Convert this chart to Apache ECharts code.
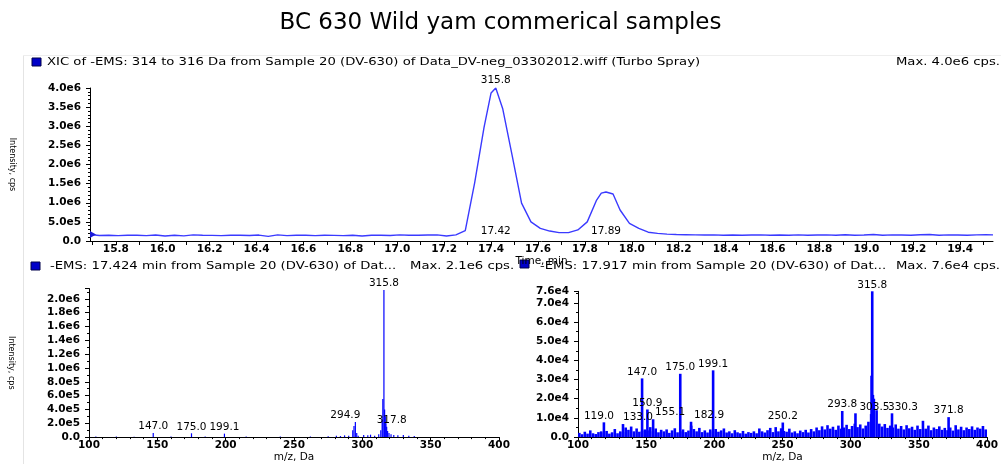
<!DOCTYPE html>
<html>
<head>
<meta charset="utf-8">
<script src="https://cdn.jsdelivr.net/npm/echarts@6/dist/echarts.min.js"></script>
<style>
  html, body { margin: 0; padding: 0; background: #ffffff; }
  #chart { width: 1001px; height: 464px; }
</style>
</head>
<body>
<div id="chart"></div>
<script>
// ---- texts ----
const chartTitle = 'BC 630 Wild yam commerical samples';
const xicName = 'XIC of -EMS: 314 to 316 Da from Sample 20 (DV-630) of Data_DV-neg_03302012.wiff (Turbo Spray)';
const xicMaxText = 'Max. 4.0e6 cps.';
const specAName = '-EMS: 17.424 min from Sample 20 (DV-630) of Dat...';
const specAMaxText = 'Max. 2.1e6 cps.';
const specBName = '-EMS: 17.917 min from Sample 20 (DV-630) of Dat...';
const specBMaxText = 'Max. 7.6e4 cps.';
const intensityName = 'Intensity, cps';
const timeName = 'Time, min';
const mzName = 'm/z, Da';

// ---- extracted ion chromatogram (time in min, intensity in cps) ----
const xicTime = [
  15.69, 15.73, 15.77, 15.81, 15.85, 15.89, 15.93, 15.97, 16.01, 16.05,
  16.09, 16.13, 16.17, 16.21, 16.25, 16.29, 16.33, 16.37, 16.41, 16.45,
  16.49, 16.53, 16.57, 16.61, 16.65, 16.69, 16.73, 16.77, 16.81, 16.85,
  16.89, 16.93, 16.97, 17.01, 17.05, 17.09, 17.13, 17.17, 17.21, 17.25,
  17.29, 17.33, 17.37, 17.40, 17.42, 17.45, 17.49, 17.53, 17.57, 17.61,
  17.65, 17.69, 17.73, 17.77, 17.81, 17.85, 17.87, 17.89, 17.92, 17.95,
  17.99, 18.03, 18.07, 18.11, 18.15, 18.19, 18.23, 18.27, 18.31, 18.35,
  18.39, 18.43, 18.47, 18.51, 18.55, 18.59, 18.63, 18.67, 18.71, 18.75,
  18.79, 18.83, 18.87, 18.91, 18.95, 18.99, 19.03, 19.07, 19.11, 19.15,
  19.19, 19.23, 19.27, 19.31, 19.35, 19.39, 19.43, 19.47, 19.51, 19.54
];
const xicIntensity = [
  170000, 145000, 150000, 140000, 150000, 152000, 140000, 158000, 132000, 150000,
  135000, 160000, 150000, 148000, 140000, 152000, 150000, 142000, 155000, 122000,
  160000, 140000, 150000, 152000, 140000, 150000, 148000, 140000, 152000, 132000,
  150000, 150000, 142000, 160000, 150000, 150000, 158000, 160000, 130000, 160000,
  270000, 1520000, 2970000, 3870000, 4000000, 3450000, 2230000, 990000, 500000, 330000,
  260000, 220000, 220000, 290000, 500000, 1070000, 1250000, 1280000, 1230000, 810000,
  460000, 330000, 230000, 200000, 180000, 170000, 165000, 160000, 155000, 160000,
  150000, 158000, 150000, 155000, 160000, 150000, 158000, 152000, 160000, 150000,
  155000, 160000, 150000, 165000, 150000, 155000, 170000, 150000, 160000, 155000,
  150000, 165000, 170000, 150000, 160000, 155000, 150000, 160000, 162000, 160000
];
// apex retention times and the ion traced
const xicPeakTimes = [17.42, 17.89];
const xicIon = '315.8';
const xicTimeLabels = [15.8, 16.0, 16.2, 16.4, 16.6, 16.8, 17.0, 17.2, 17.4, 17.6, 17.8,
  18.0, 18.2, 18.4, 18.6, 18.8, 19.0, 19.2, 19.4];
const xicTimeTicks = [15.7, 15.8, 15.9, 16.0, 16.1, 16.2, 16.3, 16.4, 16.5, 16.6, 16.7,
  16.8, 16.9, 17.0, 17.1, 17.2, 17.3, 17.4, 17.5, 17.6, 17.7, 17.8, 17.9, 18.0, 18.1,
  18.2, 18.3, 18.4, 18.5, 18.6, 18.7, 18.8, 18.9, 19.0, 19.1, 19.2, 19.3, 19.4, 19.5];

// ---- spectrum at 17.424 min (m/z, intensity in cps) ----
const specAMz = [105, 120, 133, 160, 185, 215, 240, 262, 275, 281, 284, 287, 290,
  293.0, 293.9, 295.9, 297, 301, 304, 306, 309, 312, 313.5, 314.5, 315.0, 316.3, 316.8, 317.3,
  318.5, 319.5, 321, 323, 326, 330, 334, 338];
const specAIntensity = [8000, 10000, 6000, 8000, 10000, 8000, 10000, 8000, 12000, 20000, 15000, 25000, 18000,
  100000, 160000, 60000, 20000, 30000, 25000, 35000, 20000, 40000, 100000, 250000, 550000, 400000, 300000, 200000,
  90000, 60000, 40000, 30000, 25000, 30000, 20000, 15000];
const specALabeledMz = [147.0, 175.0, 199.1, 294.9, 315.8, 317.8];
const specALabeledIntensity = [60000, 55000, 50000, 220000, 2130000, 150000];

// ---- spectrum at 17.917 min ----
const specBNoise = [
  [101, 2200], [103, 1500], [105, 2800], [107, 1800], [109, 3500], [111, 2000], [113, 1600], [115, 2600],
  [117, 3000], [119, 2400], [121, 3200], [123, 1800], [125, 2500], [127, 4200], [129, 2000], [131, 3000],
  [133, 2600], [135, 5000], [137, 3800], [139, 5500], [141, 3000], [143, 4500], [145, 2800], [147, 3300],
  [149, 4000], [151, 3500], [153, 5200], [155, 3000], [157, 4500], [159, 2500], [161, 3800], [163, 3000],
  [165, 4000], [167, 2200], [169, 3500], [171, 4600], [173, 2500], [175, 3000], [177, 4000], [179, 2600],
  [181, 3400], [183, 6000], [185, 4200], [187, 3000], [189, 4800], [191, 2600], [193, 3500], [195, 2400],
  [197, 4000], [199, 3000], [201, 4200], [203, 2800], [205, 3500], [207, 4500], [209, 2400], [211, 3000],
  [213, 2000], [215, 3600], [217, 2500], [219, 2000], [221, 3200], [223, 1800], [225, 2600], [227, 2200],
  [229, 3000], [231, 2000], [233, 4500], [235, 3000], [237, 2400], [239, 3600], [241, 4800], [243, 2600],
  [245, 5200], [247, 3000], [249, 4600], [251, 3200], [253, 2800], [255, 4400], [257, 2400], [259, 3000],
  [261, 2000], [263, 3400], [265, 2600], [267, 3800], [269, 2400], [271, 4200], [273, 3000], [275, 5000],
  [277, 3600], [279, 5600], [281, 4000], [283, 6200], [285, 4400], [287, 5400], [289, 3800], [291, 6000],
  [293, 4400], [295, 5000], [297, 6400], [299, 4200], [301, 5800], [303, 7000], [305, 5200], [307, 6600],
  [309, 4500], [311, 6000], [313, 8000], [315, 12000], [317, 20000], [319, 14000], [321, 7000], [323, 5500],
  [325, 6800], [327, 4800], [329, 6000], [331, 5000], [333, 6600], [335, 4400], [337, 5800], [339, 4000],
  [341, 6200], [343, 4600], [345, 5400], [347, 3800], [349, 6000], [351, 4200], [353, 8500], [355, 4400],
  [357, 6000], [359, 3600], [361, 5000], [363, 4200], [365, 5600], [367, 3800], [369, 4800], [371, 3600],
  [373, 5000], [375, 3400], [377, 6200], [379, 4000], [381, 5400], [383, 3600], [385, 5000], [387, 4200],
  [389, 5600], [391, 3800], [393, 5000], [395, 4400], [397, 5800], [399, 4000]
];
const specBClusterMz = [315.3, 316.3, 316.8];
const specBClusterIntensity = [32000, 22000, 14000];
const specBLabeledMz = [119.0, 133.0, 147.0, 150.9, 155.1, 182.9, 175.0, 199.1, 250.2, 293.8, 303.5, 315.8, 330.3, 371.8];
const specBLabeledIntensity = [7700, 6800, 30600, 14400, 9300, 8000, 33000, 34800, 7600, 13600, 12400, 76000, 12400, 10400];

// ---- styling ----
const FONT = 'DejaVu Sans';
const INK = '#000000';
const TRACE = '#3a3aff';
const STICK = '#0000ff';
const HEADER_STRETCH = 1.2;   // the panel captions use a wide, letter-spaced face
// horizontal nudges (px) that keep crowded peak labels apart
const specALabelNudge = { '294.9': -10, '317.8': 5 };
const specBLabelNudge = { '133.0': 15, '155.1': 17, '182.9': 18, '303.5': 19, '330.3': 11, '119.0': -5 };

const sci = v => (v === 0 ? '0.0' : v.toExponential(1).replace('+', ''));
const tickFont = { fontFamily: FONT, fontSize: 10.5, fontWeight: 'bold', color: INK };
const labelFont = { fontFamily: FONT, fontSize: 10.5, color: INK };

function valueAxisBase() {
  return {
    type: 'value',
    axisLine: { show: true, lineStyle: { color: INK, width: 1 } },
    axisTick: { show: true, length: 4, lineStyle: { color: INK } },
    splitLine: { show: false },
    nameTextStyle: { fontFamily: FONT, fontSize: 10.5, color: INK }
  };
}

function stickData(pairs, labeledMz, labeledVals, nudge) {
  const out = pairs.map(p => ({ value: p }));
  labeledMz.forEach((mz, i) => {
    const key = mz.toFixed(1);
    out.push({
      value: [mz, labeledVals[i]],
      label: { show: true, offset: [nudge[key] || 0, 0] }
    });
  });
  return out;
}

// blue key square in front of a panel caption
function captionKey(x, y) {
  return { type: 'rect', silent: true, shape: { x: x, y: y - 4.5, width: 9, height: 8 },
    style: { fill: '#0000c8', stroke: '#00004a', lineWidth: 1 } };
}
// caption text, widened horizontally
function captionText(x, y, text, align) {
  return { type: 'text', x: x, y: y, scaleX: HEADER_STRETCH, silent: true,
    style: { text: text, fontFamily: FONT, fontSize: 11, fill: INK,
      align: align || 'left', verticalAlign: 'middle' } };
}

const xicData = xicTime.map((t, i) => [t, xicIntensity[i]]);
const apexOf = t => xicIntensity[xicTime.indexOf(t)];

const specAPairs = specAMz.map((m, i) => [m, specAIntensity[i]]);
const specBPairs = specBNoise.concat(specBClusterMz.map((m, i) => [m, specBClusterIntensity[i]]));

const option = {
  backgroundColor: '#ffffff',
  animation: false,
  title: [
    { text: chartTitle, left: 'center', top: 7,
      textStyle: { fontFamily: FONT, fontSize: 23, fontWeight: 'normal', color: INK } }
  ],
  graphic: [
    { type: 'line', silent: true, shape: { x1: 23.5, y1: 55, x2: 23.5, y2: 464 },
      style: { stroke: '#e4e4e4', lineWidth: 1 } },
    { type: 'line', silent: true, shape: { x1: 23, y1: 55.5, x2: 1001, y2: 55.5 },
      style: { stroke: '#eeeeee', lineWidth: 1 } },
    captionKey(32, 62.5),
    captionText(47, 62.5, xicName),
    captionText(1000, 62.5, xicMaxText, 'right'),
    captionKey(31, 266.5),
    captionText(50, 266.5, specAName),
    captionText(410, 266.5, specAMaxText),
    captionKey(520, 264.5),
    captionText(540, 266.5, specBName),
    captionText(1000, 266.5, specBMaxText, 'right')
  ],
  grid: [
    { left: 88, top: 88, width: 905, height: 153 },
    { left: 89, top: 288.5, width: 410, height: 155 },
    { left: 578, top: 291.3, width: 412, height: 152 }
  ],
  xAxis: [
    Object.assign(valueAxisBase(), {
      gridIndex: 0, min: 15.69, max: 19.54,
      name: timeName, nameLocation: 'middle', nameGap: 11,
      axisTick: { show: true, length: 4, customValues: xicTimeTicks, lineStyle: { color: INK } },
      axisLabel: Object.assign({ customValues: xicTimeLabels, margin: 3,
        formatter: v => v.toFixed(1) }, tickFont)
    }),
    Object.assign(valueAxisBase(), {
      gridIndex: 1, min: 100, max: 400, interval: 50,
      name: mzName, nameLocation: 'middle', nameGap: 12,
      minorTick: { show: true, splitNumber: 5, length: 2, lineStyle: { color: INK } },
      axisLabel: Object.assign({ margin: 3, formatter: v => String(v) }, tickFont)
    }),
    Object.assign(valueAxisBase(), {
      gridIndex: 2, min: 100, max: 400, interval: 50,
      name: mzName, nameLocation: 'middle', nameGap: 12,
      minorTick: { show: true, splitNumber: 5, length: 2, lineStyle: { color: INK } },
      axisLabel: Object.assign({ margin: 3, formatter: v => String(v) }, tickFont)
    })
  ],
  yAxis: [
    Object.assign(valueAxisBase(), {
      gridIndex: 0, min: 0, max: 4000000, interval: 500000,
      name: intensityName, nameLocation: 'middle', nameGap: 74, nameRotate: -90,
      nameTextStyle: { fontFamily: FONT, fontSize: 8, color: INK },
      minorTick: { show: true, splitNumber: 5, length: 2, lineStyle: { color: INK } },
      axisLabel: Object.assign({ margin: 9, formatter: sci }, tickFont)
    }),
    Object.assign(valueAxisBase(), {
      gridIndex: 1, min: 0, max: 2150000, interval: 200000,
      name: intensityName, nameLocation: 'middle', nameGap: 74, nameRotate: -90,
      nameTextStyle: { fontFamily: FONT, fontSize: 8, color: INK },
      minorTick: { show: true, splitNumber: 2, length: 2, lineStyle: { color: INK } },
      axisLabel: Object.assign({ margin: 9, showMaxLabel: false,
        formatter: v => (Math.abs(v / 200000 - Math.round(v / 200000)) < 1e-6 ? sci(v) : '') }, tickFont)
    }),
    Object.assign(valueAxisBase(), {
      gridIndex: 2, min: 0, max: 76000, interval: 10000,
      minorTick: { show: true, splitNumber: 2, length: 2, lineStyle: { color: INK } },
      axisLabel: Object.assign({ margin: 9, formatter: sci }, tickFont)
    })
  ],
  series: [
    {
      name: xicName, type: 'line', xAxisIndex: 0, yAxisIndex: 0,
      data: xicData, showSymbol: false, symbol: 'none', smooth: false,
      lineStyle: { color: TRACE, width: 1.4 }, itemStyle: { color: TRACE },
      markPoint: {
        symbol: 'circle', symbolSize: 0, silent: true,
        label: Object.assign({ show: true }, labelFont),
        data: [
          // start-of-trace cursor
          { coord: [xicTime[0], xicIntensity[0]], symbol: 'triangle', symbolSize: [7, 6],
            symbolRotate: -90, symbolOffset: [3, 0], itemStyle: { color: '#1a1ad8' },
            label: { show: false } },
          { coord: [xicPeakTimes[0], apexOf(xicPeakTimes[0])], value: xicIon,
            label: { position: 'top', distance: 2, formatter: xicIon } },
          { coord: [xicPeakTimes[0], 0], label: { position: 'top', distance: 4,
            formatter: xicPeakTimes[0].toFixed(2) } },
          { coord: [xicPeakTimes[1], 0], label: { position: 'top', distance: 4,
            formatter: xicPeakTimes[1].toFixed(2) } }
        ]
      }
    },
    {
      name: specAName, type: 'bar', xAxisIndex: 1, yAxisIndex: 1,
      data: stickData(specAPairs, specALabeledMz, specALabeledIntensity, specALabelNudge),
      barWidth: 1.2, barGap: '-100%',
      itemStyle: { color: STICK },
      label: Object.assign({ show: false, position: 'top', distance: 1,
        formatter: p => p.value[0].toFixed(1) }, labelFont)
    },
    {
      name: specBName, type: 'bar', xAxisIndex: 2, yAxisIndex: 2,
      data: stickData(specBPairs, specBLabeledMz, specBLabeledIntensity, specBLabelNudge),
      barWidth: 2.6, barGap: '-100%',
      itemStyle: { color: STICK },
      label: Object.assign({ show: false, position: 'top', distance: 1,
        formatter: p => p.value[0].toFixed(1) }, labelFont)
    }
  ]
};

const chart = echarts.init(document.getElementById('chart'), null, { renderer: 'canvas' });
chart.setOption(option);
</script>
</body>
</html>
